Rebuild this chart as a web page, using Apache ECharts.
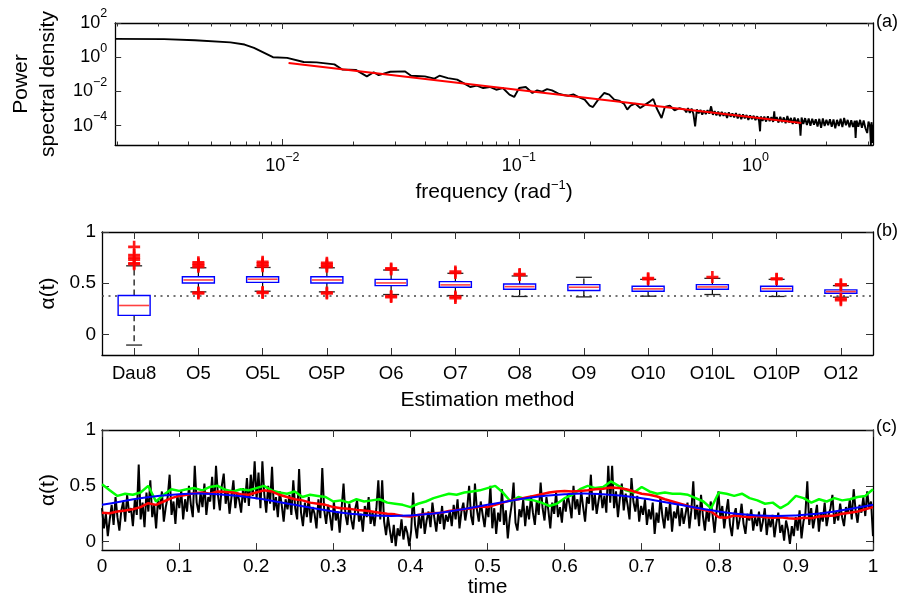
<!DOCTYPE html>
<html>
<head>
<meta charset="utf-8">
<script src="https://cdn.jsdelivr.net/npm/echarts@6/dist/echarts.min.js"></script>
<style>
  html, body { margin: 0; padding: 0; background: #fff; }
  #chart { width: 900px; height: 599px; }
</style>
</head>
<body>
<div id="chart"></div>
<script>
// ---------- (a) power spectral density (decimal exponents: log10 f, log10 PSD) ----------
const psdFreqExp = [
  -2.705, -2.50, -2.37, -2.22, -2.16, -2.12, -2.04, -1.98, -1.91, -1.855, -1.78, -1.747, -1.69, -1.643,
  -1.614, -1.593, -1.544, -1.481, -1.456, -1.398, -1.357, -1.336, -1.30,
  -1.261, -1.234, -1.206, -1.178, -1.151, -1.123, -1.096, -1.068, -1.04, -1.02, -0.999, -0.971, -0.943,
  -0.923, -0.902, -0.881, -0.86, -0.833, -0.812, -0.791, -0.77, -0.75, -0.722, -0.701, -0.687, -0.667,
  -0.639, -0.618, -0.597, -0.577, -0.556, -0.542, -0.528, -0.508, -0.487, -0.466, -0.445, -0.432, -0.418,
  -0.397, -0.383, -0.362, -0.342, -0.321,
  -0.300, -0.2925, -0.285, -0.2775, -0.270, -0.2625, -0.255, -0.2475, -0.240, -0.2325,
  -0.225, -0.2175, -0.210, -0.2025, -0.195, -0.1875, -0.180, -0.1725, -0.165, -0.1575,
  -0.150, -0.1425, -0.135, -0.1275, -0.120, -0.1125, -0.105, -0.0975, -0.090, -0.0825,
  -0.075, -0.0675, -0.060, -0.0525, -0.045, -0.0375, -0.030, -0.0225, -0.015, -0.0075,
  0.000, 0.0075, 0.015, 0.0195, 0.0225, 0.030, 0.0375, 0.045, 0.0525, 0.060,
  0.0675, 0.075, 0.0795, 0.0825, 0.090, 0.0975, 0.105, 0.1125, 0.120, 0.1275,
  0.135, 0.1425, 0.150, 0.1575, 0.165, 0.1725, 0.180, 0.1875, 0.1905, 0.195,
  0.2025, 0.210, 0.2175, 0.225, 0.2325, 0.240, 0.2475, 0.255, 0.2625, 0.270,
  0.2775, 0.285, 0.2925, 0.300, 0.3075, 0.315, 0.3225, 0.330, 0.3375, 0.345,
  0.3525, 0.360, 0.3675, 0.375, 0.3825, 0.390, 0.3975, 0.405, 0.4125, 0.420,
  0.4235, 0.4275, 0.435, 0.4425, 0.450, 0.4575, 0.465, 0.4725, 0.478, 0.4845,
  0.488, 0.4905, 0.493, 0.495
];
const psdValExp = [
  1.07, 1.06, 0.99, 0.87, 0.74, 0.55, 0.0, -0.04, -0.28, -0.30, -0.42, -0.72, -0.74, -1.12,
  -0.88, -1.05, -0.85, -0.83, -1.08, -1.12, -1.25, -1.08, -1.22,
  -1.31, -1.51, -1.74, -1.66, -1.80, -1.74, -1.90, -1.80, -2.19, -2.32, -1.80, -1.74, -2.09,
  -1.94, -2.01, -1.86, -1.94, -2.13, -2.21, -2.25, -2.17, -2.32, -2.48, -2.83, -2.91, -2.52,
  -2.09, -2.19, -2.48, -2.54, -2.71, -3.06, -2.83, -2.71, -2.97, -2.77, -2.58, -2.44, -2.97,
  -3.55, -2.91, -2.83, -3.10, -2.97,
  -3.06, -3.22, -2.98, -3.25, -3.00, -3.30, -4.04, -3.05, -3.28, -3.08,
  -3.35, -3.12, -3.32, -3.10, -3.30, -2.87, -3.36, -3.15, -3.40, -3.18,
  -3.44, -3.20, -3.42, -3.25, -3.55, -3.22, -3.48, -3.28, -3.52, -3.26,
  -3.58, -3.32, -3.62, -3.34, -3.57, -3.38, -3.66, -3.40, -3.62, -3.42,
  -3.68, -3.45, -3.70, -4.33, -3.46, -3.72, -3.47, -3.76, -3.45, -3.74,
  -3.50, -3.78, -3.16, -3.70, -3.50, -3.82, -3.48, -3.80, -3.52, -3.86,
  -3.44, -3.82, -3.55, -3.90, -3.53, -3.88, -3.58, -3.95, -4.58, -3.52,
  -3.90, -3.56, -3.96, -3.58, -4.00, -3.60, -3.95, -3.62, -4.05, -3.60,
  -4.12, -3.58, -4.02, -3.66, -3.98, -3.62, -4.06, -3.64, -4.15, -3.66,
  -4.02, -3.60, -4.08, -3.55, -3.98, -3.66, -4.10, -3.68, -4.08, -3.72,
  -4.72, -3.70, -4.06, -3.66, -4.12, -3.70, -4.15, -4.43, -3.76, -4.05,
  -5.13, -3.80, -4.00, -5.01
];
// power-law fit, end points
const fitFreqExp = [-1.974, 0.194];
const fitValExp = [-0.336, -3.84];
const psdXTicks = [-2, -1, 0];
const psdYTicks = [-4, -2, 0, 2];

// ---------- (b) spread of the estimates per method ----------
const methods = ['Dau8', 'O5', 'O5L', 'O5P', 'O6', 'O7', 'O8', 'O9', 'O10', 'O10L', 'O10P', 'O12'];
const whiskerLow  = [-0.103, 0.416, 0.422, 0.416, 0.390, 0.380, 0.371, 0.367, 0.374, 0.390, 0.371, 0.364];
const quart1      = [0.187, 0.503, 0.509, 0.503, 0.477, 0.461, 0.442, 0.429, 0.422, 0.442, 0.422, 0.403];
const medians     = [0.283, 0.532, 0.539, 0.532, 0.503, 0.484, 0.467, 0.461, 0.445, 0.464, 0.447, 0.419];
const quart3      = [0.380, 0.564, 0.564, 0.564, 0.538, 0.516, 0.493, 0.487, 0.471, 0.487, 0.471, 0.435];
const whiskerHigh = [0.670, 0.651, 0.654, 0.651, 0.629, 0.597, 0.571, 0.558, 0.538, 0.548, 0.538, 0.477];
const outlierVals = [
  [0.855, 0.775, 0.75, 0.73, 0.695, 0.685],
  [0.705, 0.69, 0.675, 0.66, 0.41, 0.40],
  [0.71, 0.695, 0.68, 0.665, 0.415, 0.405],
  [0.70, 0.685, 0.67, 0.66, 0.41, 0.40],
  [0.645, 0.635, 0.375, 0.365],
  [0.615, 0.60, 0.37, 0.355],
  [0.59, 0.58],
  [],
  [0.55, 0.54],
  [0.56],
  [0.545, 0.54],
  [0.49, 0.48, 0.35, 0.335]
];
const refLevel = 0.38;

// ---------- (c) alpha(t) on a uniform time grid over [0, 1] ----------
const alphaRaw = [
  0.30,0.12,0.25,0.05,0.20,0.33,0.15,0.40,0.22,0.10,0.28,0.36,0.18,0.42,0.26,0.30,0.14,0.38,0.24,0.69,
  0.20,0.35,0.13,0.44,0.27,0.55,0.22,0.33,0.12,0.38,0.29,0.45,0.18,0.31,0.40,0.60,0.24,0.36,0.16,0.42,
  0.30,0.46,0.20,0.38,0.27,0.50,0.33,0.22,0.68,0.35,0.26,0.44,0.31,0.52,0.24,0.40,0.36,0.58,0.29,0.68,
  0.42,0.28,0.50,0.61,0.34,0.46,0.25,0.40,0.55,0.30,0.44,0.37,0.26,0.48,0.35,0.57,0.32,0.60,0.41,0.72,
  0.38,0.62,0.30,0.72,0.42,0.26,0.50,0.34,0.67,0.28,0.40,0.22,0.45,0.33,0.18,0.38,0.29,0.42,0.24,0.55,
  0.30,0.20,0.65,0.26,0.14,0.35,0.22,0.40,0.17,0.31,0.25,0.12,0.38,0.21,0.66,0.28,0.16,0.33,0.23,0.10,
  0.36,0.19,0.27,0.08,0.30,0.52,0.24,0.15,0.34,0.20,0.11,0.29,0.37,0.18,0.25,0.09,0.32,0.22,0.40,0.16,
  0.26,0.14,0.30,0.55,0.20,0.55,0.18,0.06,0.22,0.10,-0.01,0.15,-0.04,0.12,0.05,0.20,0.02,0.14,0.08,-0.04,
  0.10,0.44,0.15,0.03,0.24,0.12,0.30,0.07,0.19,0.27,0.13,0.35,0.21,0.09,0.26,0.16,0.32,0.11,0.24,0.18,
  0.28,0.14,0.33,0.20,0.38,0.12,0.27,0.35,0.19,0.30,0.50,0.23,0.15,0.52,0.29,0.18,0.36,0.24,0.13,0.31,
  0.22,0.50,0.12,0.30,0.07,0.26,0.18,0.47,0.15,0.28,0.03,0.21,0.33,0.53,0.17,0.10,0.29,0.22,0.38,0.14,
  0.32,0.20,0.41,0.26,0.15,0.36,0.24,0.53,0.30,0.19,0.40,0.28,0.12,0.35,0.25,0.44,0.22,0.31,0.17,0.38,
  0.27,0.42,0.33,0.21,0.50,0.29,0.38,0.24,0.45,0.31,0.18,0.40,0.34,0.60,0.28,0.43,0.25,0.37,0.47,0.30,
  0.41,0.26,0.68,0.35,0.68,0.30,0.45,0.22,0.39,0.52,0.28,0.43,0.33,0.20,0.57,0.36,0.27,0.41,0.18,0.32,
  0.24,0.38,0.15,0.29,0.20,0.35,0.07,0.26,0.17,0.40,0.23,0.12,0.31,0.19,0.36,0.09,0.27,0.21,0.33,0.14,
  0.30,0.16,0.25,0.35,0.12,0.28,0.54,0.20,0.33,0.14,0.42,0.23,0.10,0.29,0.18,0.36,0.24,0.08,0.27,0.45,
  0.21,0.32,0.12,0.26,0.38,0.15,0.05,0.24,0.30,0.11,0.20,0.34,0.16,0.07,0.25,0.19,0.29,0.10,0.22,0.14,
  0.27,0.09,0.18,0.30,0.06,0.21,0.13,0.24,0.04,0.17,0.26,0.08,0.15,0.01,0.19,0.11,-0.02,0.14,0.05,0.22,
  0.10,0.28,0.03,0.18,0.25,0.54,0.15,0.30,0.12,0.22,0.33,0.09,0.26,0.18,0.35,0.14,0.24,0.30,0.42,0.16,
  0.27,0.19,0.34,0.22,0.14,0.31,0.25,0.38,0.20,0.47,0.28,0.17,0.33,0.26,0.40,0.23,0.45,0.30,0.36,0.05
];
const alphaRed = [
  0.26,0.255,0.27,0.28,0.29,0.31,0.345,0.33,0.36,0.39,
  0.41,0.42,0.435,0.44,0.43,0.45,0.445,0.44,0.425,0.42,
  0.44,0.46,0.45,0.42,0.40,0.38,0.37,0.35,0.34,0.33,
  0.31,0.30,0.295,0.285,0.28,0.27,0.26,0.25,0.245,0.23,
  0.225,0.24,0.25,0.255,0.26,0.275,0.285,0.29,0.30,0.315,
  0.31,0.33,0.35,0.37,0.38,0.395,0.41,0.425,0.44,0.45,
  0.455,0.45,0.455,0.46,0.47,0.475,0.485,0.48,0.47,0.45,
  0.43,0.42,0.405,0.38,0.36,0.34,0.32,0.30,0.285,0.27,
  0.22,0.215,0.235,0.225,0.22,0.23,0.22,0.215,0.22,0.21,
  0.205,0.215,0.21,0.225,0.23,0.235,0.25,0.26,0.27,0.29,0.31
];
const alphaGreen = [
  0.515,0.46,0.41,0.43,0.42,0.44,0.50,0.36,0.42,0.47,
  0.455,0.47,0.48,0.46,0.49,0.50,0.465,0.45,0.47,0.46,
  0.48,0.50,0.46,0.44,0.43,0.45,0.40,0.42,0.41,0.40,
  0.36,0.37,0.35,0.38,0.36,0.37,0.38,0.35,0.34,0.33,
  0.31,0.34,0.36,0.39,0.41,0.43,0.42,0.44,0.45,0.46,
  0.48,0.50,0.44,0.36,0.40,0.38,0.37,0.35,0.32,0.34,
  0.39,0.42,0.47,0.50,0.48,0.49,0.54,0.50,0.46,0.44,
  0.49,0.45,0.43,0.44,0.43,0.43,0.42,0.39,0.36,0.30,
  0.44,0.43,0.41,0.43,0.39,0.37,0.34,0.35,0.30,0.34,
  0.41,0.39,0.35,0.38,0.36,0.39,0.37,0.38,0.40,0.41,0.47
];
const alphaBlue = [
  0.33,0.361,0.389,0.411,0.425,0.431,0.425,0.411,0.389,0.361,
  0.33,0.299,0.271,0.249,0.235,0.23,0.235,0.249,0.271,0.299,
  0.33,0.361,0.389,0.411,0.425,0.431,0.425,0.411,0.389,0.361,
  0.33,0.299,0.271,0.249,0.235,0.23,0.235,0.249,0.271,0.299,0.33
];

// ---------- helpers ----------
const FONT = 'Liberation Sans, Arial, Helvetica, sans-serif';
const onGrid = (vals) => vals.map((v, i) => [i / (vals.length - 1), v]);
const supLabel = (v) => '{b|10}{s|' + (v < 0 ? '\u2212' + (-v) : v) + '}';
const supRich = {
  b: { fontSize: 18, color: '#000', fontFamily: FONT },
  s: { fontSize: 12.5, color: '#000', fontFamily: FONT, padding: [0, 0, 18, 0] }
};
const boxLine = { show: true, onZero: false, lineStyle: { color: '#000', width: 1.3 } };
const noLine = { show: false, onZero: false };
const tickStyle = { color: '#333', width: 1 };

// minor log ticks (2..9 within each decade) for the frequency axis
const fMin = -2.707, fMax = 0.497;
const minorFreqTicks = [];
for (let n = -3; n <= 0; n++) {
  for (let k = 2; k <= 9; k++) {
    const v = n + Math.log10(k);
    if (v > fMin && v < fMax) minorFreqTicks.push(v);
  }
}

function freqAxis(pos, major, labels) {
  return {
    type: 'value', gridIndex: 0, position: pos, min: fMin, max: fMax,
    axisLine: major ? boxLine : noLine,
    axisTick: { show: true, inside: true, length: major ? 6 : 3.5, lineStyle: tickStyle,
                customValues: major ? psdXTicks : minorFreqTicks },
    axisLabel: labels ? { show: true, margin: 6, customValues: psdXTicks, formatter: supLabel, rich: supRich }
                      : { show: false },
    splitLine: { show: false }
  };
}

function plainY(grid, pos, min, max, ticks, labels, name, gap) {
  const ax = {
    type: 'value', gridIndex: grid, position: pos, min: min, max: max,
    axisLine: boxLine,
    axisTick: { show: true, inside: true, length: 7, lineStyle: tickStyle, customValues: ticks },
    axisLabel: labels ? { show: true, margin: 6, customValues: ticks, color: '#000', fontSize: 19, fontFamily: FONT,
                          formatter: (v) => String(v) }
                      : { show: false },
    splitLine: { show: false }
  };
  if (name) {
    ax.name = name; ax.nameLocation = 'middle'; ax.nameGap = gap;
    ax.nameTextStyle = { fontSize: 21, color: '#000', fontFamily: FONT };
  }
  return ax;
}

// box-and-whisker glyph drawn through the category/value scales
function renderBox(params, api) {
  const i = api.value(0);
  const lo = api.coord([i, api.value(1)]);
  const q1 = api.coord([i, api.value(2)]);
  const md = api.coord([i, api.value(3)]);
  const q3 = api.coord([i, api.value(4)]);
  const hi = api.coord([i, api.value(5)]);
  const x = lo[0], hw = 16, cw = 8;
  const whisk = { stroke: '#000', lineWidth: 1.2, lineDash: [6, 4] };
  const cap = { stroke: '#222', lineWidth: 1.3 };
  return {
    type: 'group',
    children: [
      { type: 'line', shape: { x1: x, y1: q3[1], x2: x, y2: hi[1] }, style: whisk },
      { type: 'line', shape: { x1: x, y1: q1[1], x2: x, y2: lo[1] }, style: whisk },
      { type: 'line', shape: { x1: x - cw, y1: hi[1], x2: x + cw, y2: hi[1] }, style: cap },
      { type: 'line', shape: { x1: x - cw, y1: lo[1], x2: x + cw, y2: lo[1] }, style: cap },
      { type: 'rect', shape: { x: x - hw, y: q3[1], width: 2 * hw, height: q1[1] - q3[1] },
        style: { fill: '#fff', stroke: '#0000ff', lineWidth: 1.4 } },
      { type: 'line', shape: { x1: x - hw + 1, y1: md[1], x2: x + hw - 1, y2: md[1] },
        style: { stroke: '#ff4040', lineWidth: 1.6 } }
    ]
  };
}

const boxData = methods.map((m, i) => [i, whiskerLow[i], quart1[i], medians[i], quart3[i], whiskerHigh[i]]);
const outlierData = [];
outlierVals.forEach((arr, i) => arr.forEach((v) => outlierData.push([i, v])));

const PLUS = 'path://M3.9,0H6.1V3.9H10V6.1H6.1V10H3.9V6.1H0V3.9H3.9Z';

const chart = echarts.init(document.getElementById('chart'), null, { renderer: 'canvas' });

chart.setOption({
  animation: false,
  backgroundColor: '#fff',
  textStyle: { fontFamily: FONT, color: '#000' },
  grid: [
    { left: 102, right: 27, top: 23, height: 122, containLabel: false },
    { left: 102, right: 27, top: 232, height: 123, containLabel: false },
    { left: 102, right: 27, top: 430, height: 122, containLabel: false }
  ],
  xAxis: [
    Object.assign(freqAxis('bottom', true, true), {
      name: '{t|frequency (rad}{s|\u22121}{t|)}', nameLocation: 'middle', nameGap: 34,
      nameTextStyle: { rich: {
        t: { fontSize: 21, color: '#000', fontFamily: FONT },
        s: { fontSize: 13, color: '#000', fontFamily: FONT, padding: [0, 0, 14, 0] }
      } }
    }),
    freqAxis('bottom', false, false),
    freqAxis('top', true, false),
    freqAxis('top', false, false),
    {
      type: 'category', gridIndex: 1, position: 'bottom', data: methods, boundaryGap: true,
      axisLine: boxLine,
      axisTick: { show: true, inside: true, alignWithLabel: true, length: 7, lineStyle: tickStyle },
      axisLabel: { show: true, margin: 9, color: '#000', fontSize: 18.5, fontFamily: FONT },
      name: 'Estimation method', nameLocation: 'middle', nameGap: 35,
      nameTextStyle: { fontSize: 21, color: '#000', fontFamily: FONT },
      splitLine: { show: false }
    },
    {
      type: 'category', gridIndex: 1, position: 'top', data: methods, boundaryGap: true,
      axisLine: boxLine,
      axisTick: { show: true, inside: true, alignWithLabel: true, length: 7, lineStyle: tickStyle },
      axisLabel: { show: false }, splitLine: { show: false }
    },
    {
      type: 'value', gridIndex: 2, position: 'bottom', min: 0, max: 1, interval: 0.1,
      axisLine: boxLine,
      axisTick: { show: true, inside: true, length: 7, lineStyle: tickStyle },
      axisLabel: { show: true, margin: 7, color: '#000', fontSize: 19, fontFamily: FONT },
      name: 'time', nameLocation: 'middle', nameGap: 25,
      nameTextStyle: { fontSize: 21, color: '#000', fontFamily: FONT },
      splitLine: { show: false }
    },
    {
      type: 'value', gridIndex: 2, position: 'top', min: 0, max: 1, interval: 0.1,
      axisLine: boxLine,
      axisTick: { show: true, inside: true, length: 7, lineStyle: tickStyle },
      axisLabel: { show: false }, splitLine: { show: false }
    }
  ],
  yAxis: [
    {
      type: 'value', gridIndex: 0, position: 'left', min: -5.13, max: 2,
      axisLine: boxLine,
      axisTick: { show: true, inside: true, length: 6, lineStyle: tickStyle, customValues: psdYTicks },
      axisLabel: { show: true, margin: 8, customValues: psdYTicks, formatter: supLabel, rich: supRich },
      splitLine: { show: false },
      name: 'Power\nspectral density', nameLocation: 'middle', nameGap: 42,
      nameTextStyle: { fontSize: 21, lineHeight: 27, color: '#000', fontFamily: FONT }
    },
    {
      type: 'value', gridIndex: 0, position: 'right', min: -5.13, max: 2,
      axisLine: boxLine,
      axisTick: { show: true, inside: true, length: 6, lineStyle: tickStyle, customValues: psdYTicks },
      axisLabel: { show: false }, splitLine: { show: false }
    },
    plainY(1, 'left', -0.2, 1, [0, 0.5, 1], true, '\u03b1(t)', 32),
    plainY(1, 'right', -0.2, 1, [0, 0.5, 1], false),
    plainY(2, 'left', -0.075, 1, [0, 0.5, 1], true, '\u03b1(t)', 35),
    plainY(2, 'right', -0.075, 1, [0, 0.5, 1], false)
  ],
  graphic: [
    { type: 'text', left: 876, top: 13, style: { text: '(a)', fontSize: 18, fill: '#000', fontFamily: FONT } },
    { type: 'text', left: 876, top: 222, style: { text: '(b)', fontSize: 18, fill: '#000', fontFamily: FONT } },
    { type: 'text', left: 876, top: 418, style: { text: '(c)', fontSize: 18, fill: '#000', fontFamily: FONT } }
  ],
  series: [
    // (a)
    {
      type: 'line', xAxisIndex: 0, yAxisIndex: 0, symbol: 'none', z: 2,
      data: psdFreqExp.map((f, i) => [f, psdValExp[i]]),
      lineStyle: { color: '#000', width: 1.9 }
    },
    {
      type: 'line', xAxisIndex: 0, yAxisIndex: 0, symbol: 'none', z: 3,
      data: fitFreqExp.map((f, i) => [f, fitValExp[i]]),
      lineStyle: { color: '#ff0000', width: 2 }
    },
    // (b)
    {
      type: 'custom', xAxisIndex: 4, yAxisIndex: 2, renderItem: renderBox, z: 3,
      encode: { x: 0, y: [1, 2, 3, 4, 5] },
      data: boxData
    },
    {
      type: 'scatter', xAxisIndex: 4, yAxisIndex: 2, symbol: PLUS, symbolSize: 12, z: 4,
      itemStyle: { color: '#ff0000', opacity: 0.9 },
      data: outlierData,
      markLine: {
        silent: true, symbol: ['none', 'none'], label: { show: false }, z: 1,
        lineStyle: { color: '#444', type: [2, 4.5], width: 1.5 },
        data: [{ yAxis: refLevel }]
      }
    },
    // (c)
    {
      type: 'line', xAxisIndex: 6, yAxisIndex: 4, symbol: 'none', z: 2,
      data: onGrid(alphaRaw), lineStyle: { color: '#000', width: 2 }
    },
    {
      type: 'line', xAxisIndex: 6, yAxisIndex: 4, symbol: 'none', z: 3,
      data: onGrid(alphaGreen), lineStyle: { color: '#00ff00', width: 2.5 }
    },
    {
      type: 'line', xAxisIndex: 6, yAxisIndex: 4, symbol: 'none', z: 4,
      data: onGrid(alphaRed), lineStyle: { color: '#ff0000', width: 2.5 }
    },
    {
      type: 'line', xAxisIndex: 6, yAxisIndex: 4, symbol: 'none', z: 5, smooth: true,
      data: onGrid(alphaBlue), lineStyle: { color: '#0000ff', width: 2 }
    }
  ]
});
</script>
</body>
</html>
